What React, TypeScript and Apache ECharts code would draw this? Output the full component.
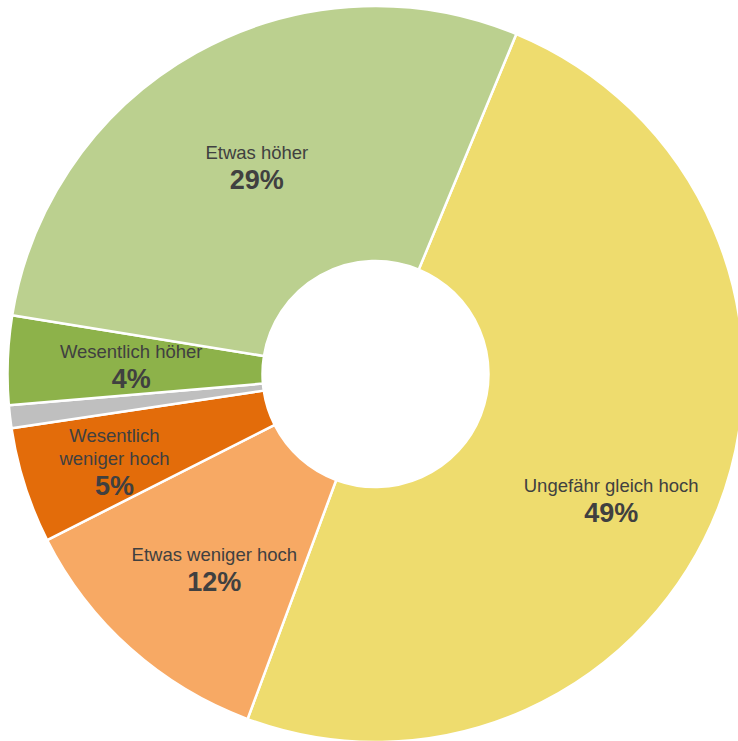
import React, { useEffect, useRef } from "react";
import * as echarts from "echarts";

const categories = [
  "Ungefähr gleich hoch",
  "Etwas weniger hoch",
  "Wesentlich\nweniger hoch",
  "Keine Angabe",
  "Wesentlich höher",
  "Etwas höher",
];
const values = [49.4, 11.9, 5.1, 1.0, 3.9, 28.7];
const colors = ["#EEDC6E", "#F7A964", "#E36C0A", "#BFBFBF", "#8DB24A", "#BBD08F"];
const showLabel = [true, true, true, false, true, true];
// small label nudges (px) to mimic the original placement
const labelDx = [9, 1, -29, 0, -1, 0];
const labelDy = [39, 15, 15, 0, 3, 7];

export default function App() {
  const ref = useRef<HTMLDivElement>(null);
  useEffect(() => {
    document.body.style.margin = "0";
    if (!ref.current) return;
    const chart = echarts.init(ref.current, undefined, { renderer: "svg" });
    chart.setOption({
      animation: false,
      backgroundColor: "#ffffff",
      series: [
        {
          type: "pie",
          center: [375.5, 374],
          radius: [113, 368],
          startAngle: 67.5,
          clockwise: true,
          avoidLabelOverlap: false,
          itemStyle: { borderColor: "#ffffff", borderWidth: 2.5 },
          label: {
            position: "inside",
            color: "#404040",
            fontFamily: "Liberation Sans, Arial, sans-serif",
            formatter: (p: any) => {
              const lines = String(p.name)
                .split("\n")
                .map((l: string) => `{name|${l}}`)
                .join("\n");
              return `${lines}\n{pct|${Math.round(p.value)}%}`;
            },
            rich: {
              name: {
                fontSize: 18.5,
                color: "#404040",
                lineHeight: 23,
                fontFamily: "Liberation Sans, Arial, sans-serif",
              },
              pct: {
                fontSize: 27,
                fontWeight: "bold",
                color: "#404040",
                lineHeight: 32,
                fontFamily: "Liberation Sans, Arial, sans-serif",
              },
            },
          },
          labelLine: { show: false },
          labelLayout: (params: any) => ({
            dx: labelDx[params.dataIndex],
            dy: labelDy[params.dataIndex],
          }),
          emphasis: { disabled: true },
          data: categories.map((name, i) => ({
            name,
            value: values[i],
            itemStyle: { color: colors[i] },
            label: { show: showLabel[i] },
          })),
        },
      ],
    });
    return () => chart.dispose();
  }, []);
  return <div ref={ref} style={{ width: 738, height: 741 }} />;
}
